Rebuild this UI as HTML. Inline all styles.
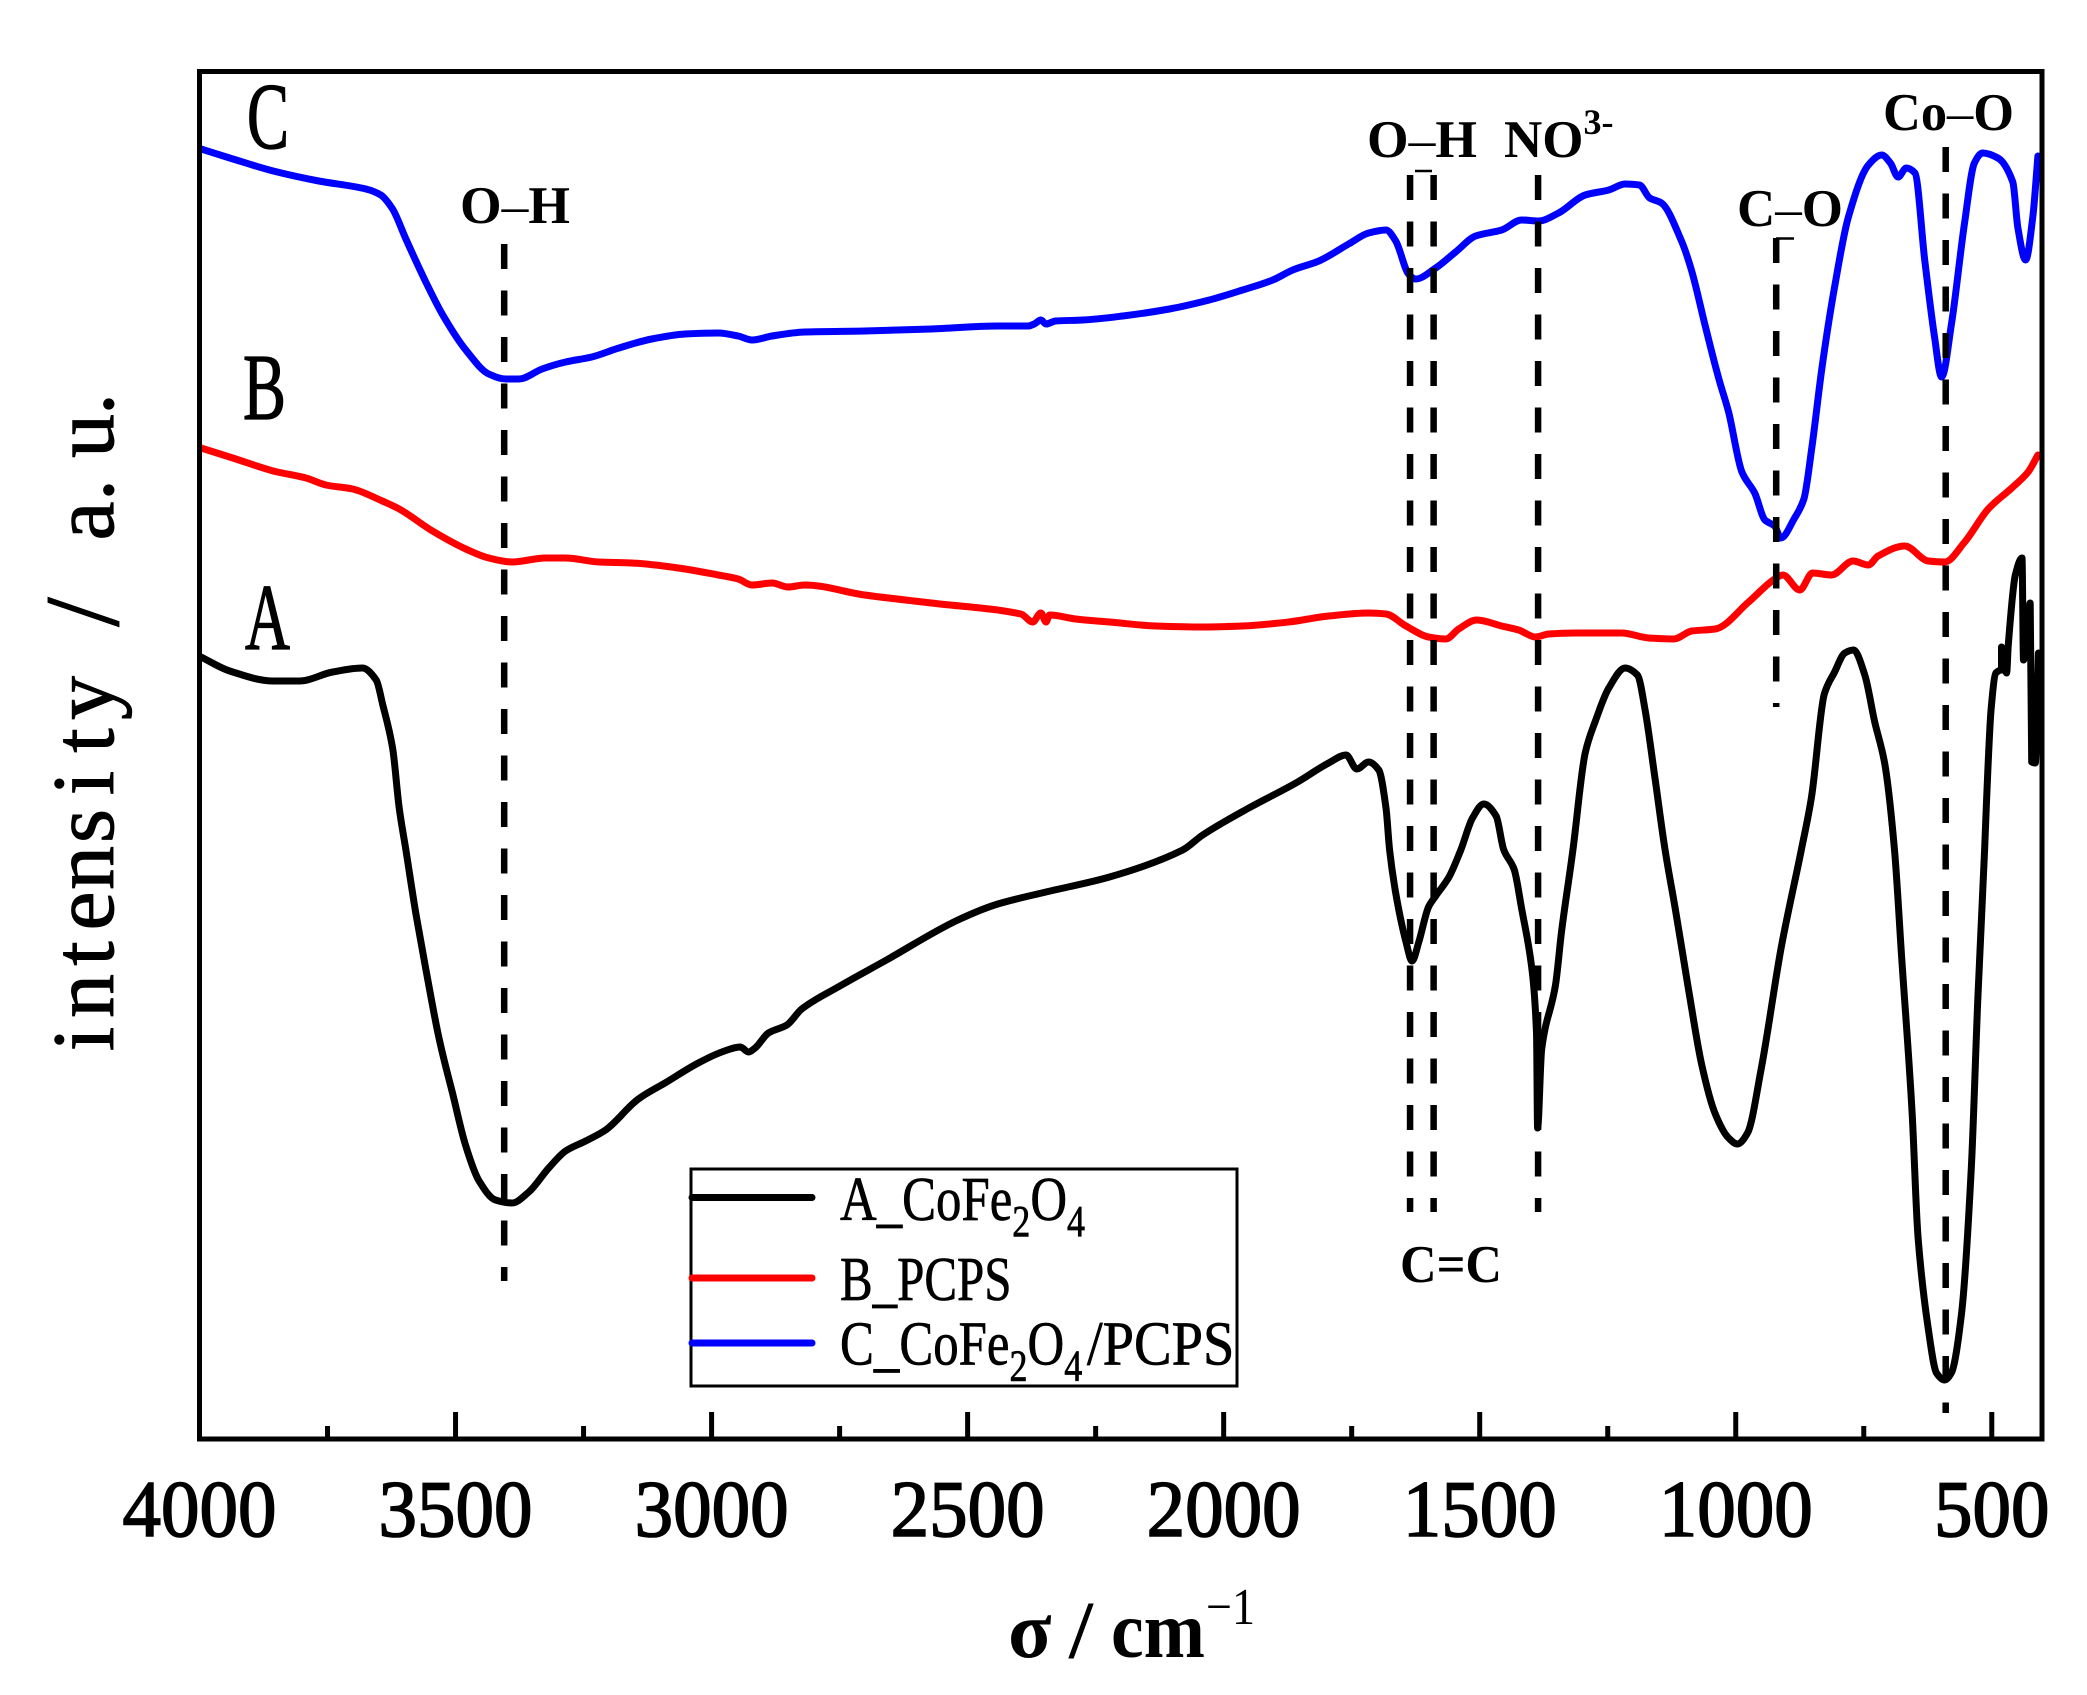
<!DOCTYPE html>
<html lang="en">
<head>
<meta charset="utf-8">
<title>FTIR spectra</title>
<style>
html,body{margin:0;padding:0;background:#fff;width:2087px;height:1695px;overflow:hidden}
svg{display:block}
text{fill:#000;font-family:"Liberation Serif",serif}
.tick{font-size:80px;stroke:#000;stroke-width:1.6}
.note{font-size:53px;font-weight:bold}
.leg{font-size:62px;stroke:#000;stroke-width:.7}
.sub{font-size:44px}
.letter{font-size:94px;stroke:#000;stroke-width:1.3}
</style>
</head>
<body>
<svg id="chart" xmlns="http://www.w3.org/2000/svg" width="2087" height="1695" viewBox="0 0 2087 1695">
  <rect x="0" y="0" width="2087" height="1695" fill="#fff"/>
  <g id="series" fill="none" stroke-width="7" stroke-linejoin="round" stroke-linecap="round"></g>
  <g id="markers" fill="none" stroke="#000" stroke-width="6.5" stroke-dasharray="25 21.5"></g>
  <g id="ticks" stroke="#000" stroke-width="5"></g>
  <rect x="199.5" y="71.5" width="1842.5" height="1367.5" fill="none" stroke="#000" stroke-width="5"/>
  <g id="tick-labels"></g>

  <text class="letter" x="247" y="148" textLength="42" lengthAdjust="spacingAndGlyphs">C</text>
  <text class="letter" x="243" y="419" textLength="43" lengthAdjust="spacingAndGlyphs">B</text>
  <text class="letter" x="245" y="649" textLength="45" lengthAdjust="spacingAndGlyphs">A</text>

  <text class="note" x="460" y="223" textLength="110" lengthAdjust="spacingAndGlyphs">O<tspan font-weight="normal">–</tspan>H</text>
  <text class="note" x="1367" y="157" textLength="110" lengthAdjust="spacingAndGlyphs">O<tspan font-weight="normal">–</tspan>H</text>
  <text class="note" x="1504" y="157">NO<tspan font-size="36" dy="-23">3-</tspan></text>
  <text class="note" x="1737" y="226" textLength="106" lengthAdjust="spacingAndGlyphs">C<tspan font-weight="normal">–</tspan>O</text>
  <text class="note" x="1883" y="130" textLength="131" lengthAdjust="spacingAndGlyphs">Co<tspan font-weight="normal">–</tspan>O</text>
  <text class="note" x="1400" y="1282" textLength="102" lengthAdjust="spacingAndGlyphs">C=C</text>
  <line x1="1415" y1="171" x2="1432" y2="171" stroke="#000" stroke-width="2.5"/>
  <line x1="1776" y1="238.5" x2="1794" y2="238.5" stroke="#000" stroke-width="2.5"/>

  <text transform="translate(113,1060) rotate(-90)" text-anchor="middle" style="font-size:88px;stroke:#000;stroke-width:.9" x="21 64 106.5 149 192 234 277 319.5 362 405 448 490 539 570 600 624 656">intensity <tspan font-size="106" dy="5">/</tspan><tspan dy="-5"> a. u.</tspan></text>

  <text x="1008" y="1657" style="font-size:80px;font-weight:bold">σ</text>
  <text x="1069" y="1657" style="font-size:80px;stroke:#000;stroke-width:1" textLength="24" lengthAdjust="spacingAndGlyphs">/</text>
  <text x="1111" y="1657" style="font-size:80px;font-weight:bold" textLength="94" lengthAdjust="spacingAndGlyphs">cm</text>
  <text x="1206" y="1624" style="font-size:52px" textLength="49" lengthAdjust="spacingAndGlyphs">−1</text>

  <g>
    <rect x="691" y="1169" width="546" height="217" fill="#fff" stroke="#000" stroke-width="3"/>
    <line x1="692" y1="1197.5" x2="812" y2="1197.5" stroke="#000" stroke-width="7" stroke-linecap="round"/>
    <line x1="692" y1="1278" x2="812" y2="1278" stroke="#f00" stroke-width="7" stroke-linecap="round"/>
    <line x1="692" y1="1343" x2="812" y2="1343" stroke="#00f" stroke-width="7" stroke-linecap="round"/>
    <text class="leg" transform="translate(840,1220) scale(.82,1)">A_CoFe<tspan class="sub" dy="16">2</tspan><tspan dy="-16">O</tspan><tspan class="sub" dy="16">4</tspan></text>
    <text class="leg" transform="translate(840,1300) scale(.79,1)">B_PCPS</text>
    <text class="leg" transform="translate(840,1364.5) scale(.82,1)">C_CoFe<tspan class="sub" dy="16">2</tspan><tspan dy="-16">O</tspan><tspan class="sub" dy="16">4</tspan></text>
    <text class="leg" transform="translate(1087,1364.5) scale(.91,1)">/PCPS</text>
  </g>
</svg>
<script>
// ---- data (x: wavenumber in cm-1, y: intensity in arbitrary units) ----
const wavenumbersA = [3997,3941,3856,3805,3740,3682,3655,3642,3623,3610,3597,3577,3558,3532,3506,3480,3454,3422,3390,3357,3318,3285,3246,3207,3143,3091,3026,2980,2944,2928,2915,2889,2853,2824,2753,2662,2519,2441,2347,2223,2080,2041,1951,1859,1795,1761,1740,1717,1697,1683,1676,1664,1644,1632,1619,1600,1586,1560,1537,1514,1492,1468,1453,1433,1418,1398,1389,1387,1379,1352,1340,1318,1294,1274,1248,1216,1192,1177,1157,1138,1118,1092,1066,1040,1014,997,977,951,911,872,852,827,807,787,770,748,729,709,690,676,656,644,624,608,592,579,559,540,527,514,510,501,492,481,481,471,468,454,441,438,425,422,415,409];
const intensityA = [782,768,758,758,767,771,759,734,691,631,589,524,470,400,346,293,258,239,236,247,271,288,298,309,340,356,376,387,392,387,391,406,414,430,452,478,519,535,547,562,589,604,631,656,676,684,670,677,669,631,589,546,497,478,497,532,543,562,589,621,635,623,589,570,530,470,406,311,390,454,508,589,686,718,751,771,764,729,658,589,530,449,373,325,301,295,306,368,492,589,642,745,767,786,789,764,718,675,589,481,330,201,110,66,59,66,126,271,444,589,642,732,766,769,792,766,793,864,881,779,836,677,676,786];

const wavenumbersB = [3997,3935,3856,3792,3753,3701,3643,3610,3545,3480,3435,3390,3324,3285,3220,3156,3065,2987,2948,2921,2882,2851,2818,2701,2571,2396,2373,2357,2347,2340,2289,2223,2133,2041,1963,1873,1795,1717,1683,1644,1600,1566,1541,1506,1457,1424,1391,1365,1313,1223,1170,1121,1086,1040,975,924,908,875,850,813,771,741,722,670,624,592,553,507,461,429,410];
const intensityB = [991,981,968,961,954,950,938,930,908,890,881,877,881,881,877,876,871,864,860,854,856,852,854,844,836,825,817,826,817,824,820,817,813,812,813,817,823,826,825,813,802,800,810,819,813,809,802,805,806,806,801,800,808,810,837,860,864,849,866,864,878,874,883,893,878,877,897,930,951,967,984];

const wavenumbersC = [3997,3941,3856,3767,3675,3646,3623,3597,3558,3526,3480,3435,3402,3376,3331,3285,3234,3181,3117,3052,2987,2948,2921,2882,2818,2701,2571,2441,2382,2370,2357,2347,2328,2275,2197,2106,2028,1963,1904,1865,1814,1756,1717,1683,1664,1639,1625,1586,1547,1508,1457,1418,1385,1346,1294,1248,1216,1188,1168,1145,1106,1086,1060,1033,1014,988,963,943,924,912,885,867,852,832,807,780,741,715,698,683,667,650,631,612,598,579,553,534,518,488,459,449,434,420,410];
const intensityC = [1290,1281,1268,1258,1250,1244,1230,1200,1157,1125,1089,1065,1060,1060,1070,1077,1082,1091,1100,1105,1106,1103,1099,1103,1107,1108,1110,1113,1113,1115,1119,1115,1118,1119,1123,1130,1139,1149,1159,1169,1178,1195,1206,1209,1198,1165,1160,1171,1187,1203,1209,1219,1218,1226,1244,1249,1255,1254,1241,1236,1198,1168,1114,1060,1027,967,946,919,913,901,921,940,989,1070,1152,1222,1274,1284,1276,1262,1271,1266,1179,1103,1062,1114,1217,1276,1286,1281,1257,1211,1179,1222,1283];

const majorTicks = [4000,3500,3000,2500,2000,1500,1000,500];
const minorTicks = [3750,3250,2750,2250,1750,1250,750];
const tickLabels = ["4000","3500","3000","2500","2000","1500","1000","500"];

const markerWavenumbers = [3405,1636,1590,1386,921,590];
const markerTops = [1195,1264,1264,1264,1201,1292];
const markerBottoms = [158,227,227,227,732,26];

// ---- axis functions ----
const SVG_NS = 'http://www.w3.org/2000/svg';
const plotLeft = 199.5, plotRight = 2043, plotBottom = 1439, plotTop = 71;
function xScale(w){ return plotLeft + (4000 - w) / 3600 * (plotRight - plotLeft); }
function yScale(v){ return plotBottom - v / 1368 * (plotBottom - plotTop); }

// monotone cubic path through the data points
function linePath(xs, ys){
  const px = xs.map(xScale), py = ys.map(yScale), n = px.length, m = [];
  for (let i = 0; i < n; i++) {
    const h0 = i > 0 ? px[i] - px[i-1] : 0, h1 = i < n-1 ? px[i+1] - px[i] : 0;
    const s0 = h0 > 0 ? (py[i] - py[i-1]) / h0 : null, s1 = h1 > 0 ? (py[i+1] - py[i]) / h1 : null;
    if (s0 === null && s1 === null) m.push(0);
    else if (s0 === null) m.push(i === 0 ? s1 : 0);
    else if (s1 === null) m.push(i === n-1 ? s0 : 0);
    else if (s0 * s1 <= 0) m.push(0);
    else m.push(2 * s0 * s1 / (s0 + s1));
  }
  let d = 'M' + px[0].toFixed(1) + ' ' + py[0].toFixed(1);
  for (let i = 1; i < n; i++) {
    const dx = (px[i] - px[i-1]) / 3;
    d += ' C' + (px[i-1] + dx).toFixed(1) + ' ' + (py[i-1] + m[i-1] * dx).toFixed(1) + ' ' +
         (px[i] - dx).toFixed(1) + ' ' + (py[i] - m[i] * dx).toFixed(1) + ' ' +
         px[i].toFixed(1) + ' ' + py[i].toFixed(1);
  }
  return d;
}

const seriesLayer = document.getElementById('series');

const curveA = document.createElementNS(SVG_NS, 'path');


curveA.setAttribute('stroke', '#000');
curveA.setAttribute('d', linePath(wavenumbersA, intensityA));
seriesLayer.appendChild(curveA);

const curveB = document.createElementNS(SVG_NS, 'path');


curveB.setAttribute('stroke', '#f00');
curveB.setAttribute('d', linePath(wavenumbersB, intensityB));
seriesLayer.appendChild(curveB);

const curveC = document.createElementNS(SVG_NS, 'path');


curveC.setAttribute('stroke', '#00f');
curveC.setAttribute('d', linePath(wavenumbersC, intensityC));
seriesLayer.appendChild(curveC);

const markerLayer = document.getElementById('markers');
markerWavenumbers.forEach(function(w, i){
  const ln = document.createElementNS(SVG_NS, 'line');
  
  
  ln.setAttribute('x1', xScale(w));
  ln.setAttribute('x2', xScale(w));
  ln.setAttribute('y1', yScale(markerTops[i]));
  ln.setAttribute('y2', yScale(markerBottoms[i]));
  markerLayer.appendChild(ln);
});

const tickLayer = document.getElementById('ticks');
majorTicks.forEach(function(w){
  const t = document.createElementNS(SVG_NS, 'line');
  
  
  t.setAttribute('x1', xScale(w));
  t.setAttribute('x2', xScale(w));
  t.setAttribute('y1', plotBottom);
  t.setAttribute('y2', plotBottom - 27);
  tickLayer.appendChild(t);
});
minorTicks.forEach(function(w){
  const t = document.createElementNS(SVG_NS, 'line');
  
  
  t.setAttribute('x1', xScale(w));
  t.setAttribute('x2', xScale(w));
  t.setAttribute('y1', plotBottom);
  t.setAttribute('y2', plotBottom - 13);
  tickLayer.appendChild(t);
});

const labelLayer = document.getElementById('tick-labels');
majorTicks.forEach(function(w, i){
  const lab = document.createElementNS(SVG_NS, 'text');
  
  
  lab.setAttribute('class', 'tick');
  lab.setAttribute('x', xScale(w));
  lab.setAttribute('y', 1536);
  lab.setAttribute('text-anchor', 'middle');
  lab.setAttribute('textLength', tickLabels[i].length * 38.5);
  lab.setAttribute('lengthAdjust', 'spacingAndGlyphs');
  lab.textContent = tickLabels[i];
  labelLayer.appendChild(lab);
});
</script>
</body>
</html>
